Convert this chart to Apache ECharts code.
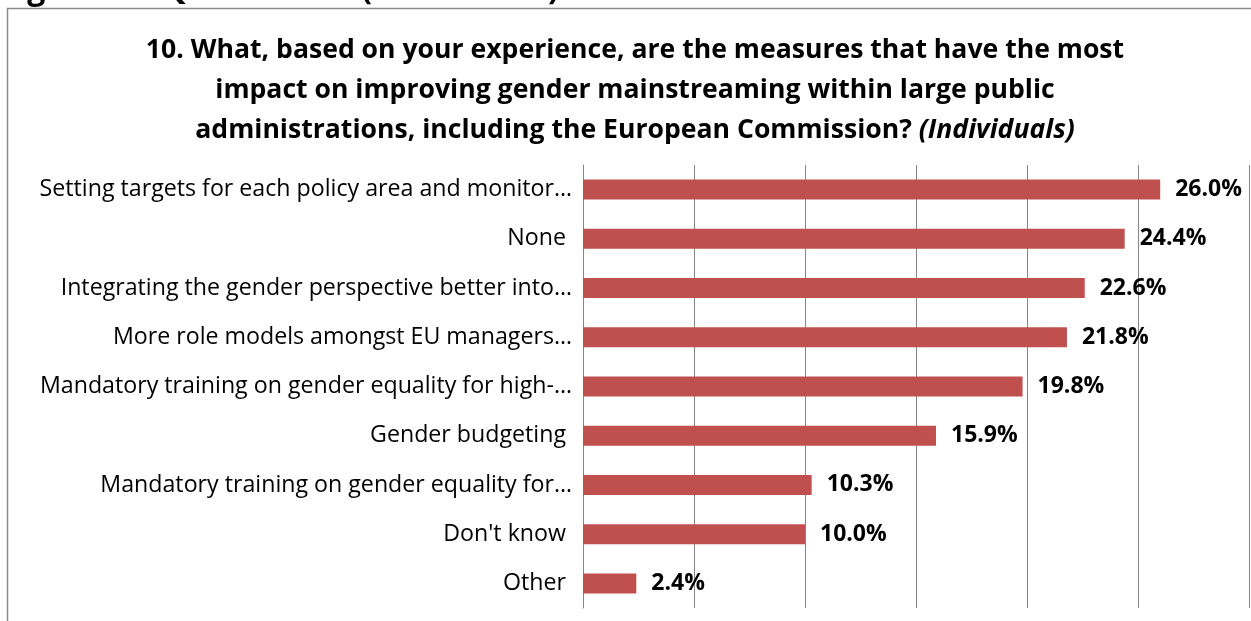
<!DOCTYPE html>
<html>
<head>
<meta charset="utf-8">
<script src="https://cdn.jsdelivr.net/npm/echarts@6/dist/echarts.min.js"></script>
<style>
  html, body { margin: 0; padding: 0; background: #fff; }
  #chart { width: 1251px; height: 621px; }
</style>
</head>
<body>
<div id="chart"></div>
<script>
// categories, top to bottom
const categories = [
  'Setting targets for each policy area and monitor…',
  'None ',
  'Integrating the gender perspective better into…',
  'More role models amongst EU managers…',
  'Mandatory training on gender equality for high-…',
  'Gender budgeting ',
  'Mandatory training on gender equality for…',
  "Don't know ",
  'Other '
]
const shares = [26.0, 24.4, 22.6, 21.8, 19.8, 15.9, 10.3, 10.0, 2.4]
const axisMax = 30
const axisStep = 5

const font = '"Open Sans", sans-serif'

const chart = echarts.init(document.getElementById('chart'))
chart.setOption({
  animation: false,
  backgroundColor: '#fff',
  title: {
    text: '10. What, based on your experience, are the measures that have the most\nimpact on improving gender mainstreaming within large public\nadministrations, including the European Commission? {it|(Individuals)}',
    left: 630,
    top: 25,
    textAlign: 'center',
    textStyle: {
      fontFamily: font,
      fontSize: 26.6,
      fontWeight: 'bold',
      color: '#000',
      lineHeight: 40,
      rich: {
        it: { fontFamily: font, fontSize: 26.6, fontWeight: 'bold', fontStyle: 'italic', color: '#000', lineHeight: 40 }
      }
    }
  },
  graphic: [
    {
      type: 'rect',
      shape: { x: 7.5, y: 8.5, width: 1260, height: 640 },
      style: { fill: 'none', stroke: '#8a8a8a', lineWidth: 1.5 },
      silent: true
    },
    {
      type: 'text',
      left: 0,
      top: -26,
      style: { text: 'Figure 10: Question 10 (Individuals)', font: 'bold 32px ' + font, fill: '#000' }
    }
  ],
  grid: { left: 583, right: 2, top: 165, bottom: 13 },
  xAxis: {
    type: 'value',
    min: 0,
    max: axisMax,
    interval: axisStep,
    axisLine: { show: false },
    axisTick: { show: false },
    axisLabel: { show: false },
    splitLine: { lineStyle: { color: '#868686', width: 1 } }
  },
  yAxis: {
    type: 'category',
    data: categories,
    inverse: true,
    axisLine: { lineStyle: { color: '#868686', width: 1 } },
    axisTick: { length: 6, lineStyle: { color: '#868686' } },
    axisLabel: { fontFamily: font, fontSize: 23.2, color: '#000', margin: 11 }
  },
  series: [{
    type: 'bar',
    data: shares,
    barWidth: 20,
    itemStyle: { color: '#C0504D' },
    label: {
      show: true,
      position: 'right',
      distance: 15,
      fontFamily: font,
      fontSize: 23,
      fontWeight: 'bold',
      color: '#000',
      formatter: p => p.value.toFixed(1) + '%'
    }
  }]
})
</script>
</body>
</html>
